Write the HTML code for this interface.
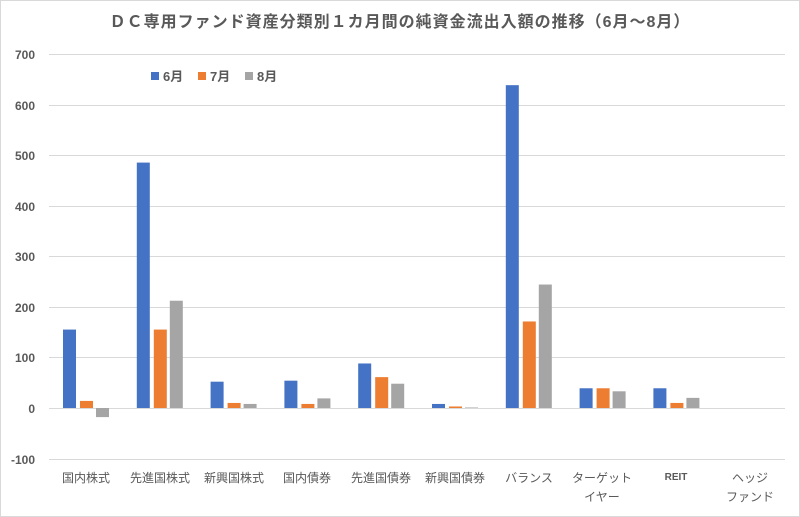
<!DOCTYPE html>
<html><head><meta charset="utf-8"><style>
html,body{margin:0;padding:0;background:#fff;}
svg{display:block;font-family:"Liberation Sans","Noto Sans CJK JP",sans-serif;}
</style></head><body>
<svg width="800" height="517" viewBox="0 0 800 517">
<rect x="0.5" y="0.5" width="799" height="516" fill="#fff" stroke="#d9d9d9"/>
<text x="400" y="27" text-anchor="middle" font-size="16" font-weight="bold" fill="#595959" letter-spacing="1">ＤＣ専用ファンド資産分類別１カ月間の純資金流出入額の推移（6月～8月）</text>
<g stroke="#d9d9d9" stroke-width="1">
<line x1="49" x2="785" y1="54.5" y2="54.5"/>
<line x1="49" x2="785" y1="105.5" y2="105.5"/>
<line x1="49" x2="785" y1="155.5" y2="155.5"/>
<line x1="49" x2="785" y1="206.5" y2="206.5"/>
<line x1="49" x2="785" y1="256.5" y2="256.5"/>
<line x1="49" x2="785" y1="307.5" y2="307.5"/>
<line x1="49" x2="785" y1="357.5" y2="357.5"/>
<line x1="49" x2="785" y1="408.5" y2="408.5"/>
<line x1="49" x2="785" y1="459.5" y2="459.5"/>
</g>
<g font-size="12" font-weight="bold" fill="#595959" text-anchor="end">
<text x="35" y="59">700</text><text x="35" y="110">600</text><text x="35" y="160">500</text>
<text x="35" y="211">400</text><text x="35" y="261">300</text><text x="35" y="312">200</text>
<text x="35" y="362">100</text><text x="35" y="413">0</text><text x="35" y="464">-100</text>
</g>
<g transform="translate(0,408) scale(1,-0.506)">
<g fill="#4472c4">
<rect x="63" y="0" width="13" height="155"/>
<rect x="136.8" y="0" width="13" height="485"/>
<rect x="210.6" y="0" width="13" height="52"/>
<rect x="284.4" y="0" width="13" height="54"/>
<rect x="358.2" y="0" width="13" height="88"/>
<rect x="432" y="0" width="13" height="8"/>
<rect x="505.8" y="0" width="13" height="638"/>
<rect x="579.6" y="0" width="13" height="39"/>
<rect x="653.4" y="0" width="13" height="39"/>
</g>
<g fill="#ed7d31">
<rect x="80" y="0" width="13" height="14"/>
<rect x="153.8" y="0" width="13" height="155"/>
<rect x="227.6" y="0" width="13" height="10"/>
<rect x="301.4" y="0" width="13" height="8"/>
<rect x="375.2" y="0" width="13" height="61"/>
<rect x="449" y="0" width="13" height="3"/>
<rect x="522.8" y="0" width="13" height="171"/>
<rect x="596.6" y="0" width="13" height="39"/>
<rect x="670.4" y="0" width="13" height="10"/>
</g>
<g fill="#a5a5a5">
<rect x="96" y="-18" width="13" height="18"/>
<rect x="169.8" y="0" width="13" height="212"/>
<rect x="243.6" y="0" width="13" height="8"/>
<rect x="317.4" y="0" width="13" height="19"/>
<rect x="391.2" y="0" width="13" height="48"/>
<rect x="465" y="0" width="13" height="1"/>
<rect x="538.8" y="0" width="13" height="244"/>
<rect x="612.6" y="0" width="13" height="33"/>
<rect x="686.4" y="0" width="13" height="20"/>
</g>
</g>
<g font-size="12" fill="#595959" text-anchor="middle">
<text x="86" y="482">国内株式</text>
<text x="160" y="482">先進国株式</text>
<text x="234" y="482">新興国株式</text>
<text x="307" y="482">国内債券</text>
<text x="381" y="482">先進国債券</text>
<text x="455" y="482">新興国債券</text>
<text x="529" y="482">バランス</text>
<text x="602" y="482">ターゲット</text>
<text x="602" y="501">イヤー</text>
<text x="676" y="480" font-size="10" font-weight="bold">REIT</text>
<text x="750" y="482">ヘッジ</text>
<text x="750" y="501">ファンド</text>
</g>
<g font-size="13" font-weight="bold" fill="#595959">
<rect x="151" y="72" width="8" height="8" fill="#4472c4"/><text x="163" y="81">6月</text>
<rect x="198" y="72" width="8" height="8" fill="#ed7d31"/><text x="210" y="81">7月</text>
<rect x="245" y="72" width="8" height="8" fill="#a5a5a5"/><text x="257" y="81">8月</text>
</g>
</svg>
</body></html>
